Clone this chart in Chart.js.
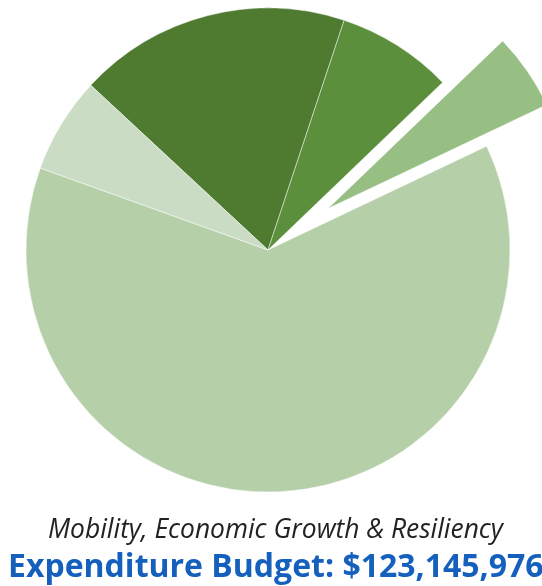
<!DOCTYPE html>
<html>
<head>
<meta charset="utf-8">
<script src="https://cdn.jsdelivr.net/npm/chart.js@4.4.1/dist/chart.umd.min.js"></script>
<style>
  html, body { margin: 0; padding: 0; background: #fff; overflow: hidden; }
  #wrap { position: relative; width: 542px; height: 586px; }
  #sub { position: absolute; left: 48px; top: 510px; font: italic 26.4px "Open Sans"; color: #222; white-space: nowrap; }
  #budget { position: absolute; left: 8px; top: 542.5px; font: bold 32px "Open Sans"; color: #1560bd; white-space: nowrap; }
</style>
</head>
<body>
<div id="wrap">
  <canvas id="pie"></canvas>
  <div id="sub">Mobility, Economic Growth &amp; Resiliency</div>
  <div id="budget">Expenditure Budget: $123,145,976</div>
</div>
<script>
// shares of the budget, clockwise starting from the dark slice
let sliceLabels = ["Slice 1", "Slice 2", "Slice 3", "Slice 4", "Slice 5"];
let sliceData = [18.18, 7.73, 5.12, 62.56, 6.42];
let sliceColors = ["#4f7b31", "#5b8f3b", "#97bf84", "#b5cfa8", "#cbdcc5"];
let explode = [0, 0, 73, 0, 0];

// pushes a slice out along its middle angle
const explodePlugin = {
    id: "explode",
    afterDatasetsUpdate(chart) {
        let area = chart.chartArea;
        let cx = (area.left + area.right) / 2;
        let cy = (area.top + area.bottom) / 2;
        chart.getDatasetMeta(0).data.forEach(function (arc, i) {
            if (!explode[i]) return;
            let mid = (arc.startAngle + arc.endAngle) / 2;
            arc.x = cx + Math.cos(mid) * explode[i];
            arc.y = cy + Math.sin(mid) * explode[i];
        });
    }
};

let pie = document.getElementById("pie").getContext("2d");
let pieChart = new Chart(pie, {
    type: "pie",
    data: {
        labels: sliceLabels,
        datasets: [{
            data: sliceData,
            backgroundColor: sliceColors,
            borderColor: "rgba(255,255,255,0.45)",
            borderWidth: 1,
            hoverOffset: 0,
            offset: 0
        }]
    },
    options: {
        responsive: true,
        maintainAspectRatio: false,
        animation: false,
        events: [],
        rotation: -47.1,
        layout: {
            padding: { left: 25.5, right: 31.5, top: 7.5, bottom: 93.5 }
        },
        plugins: {
            legend: { display: false },
            tooltip: { enabled: false }
        }
    },
    plugins: [explodePlugin]
});
</script>
</body>
</html>
